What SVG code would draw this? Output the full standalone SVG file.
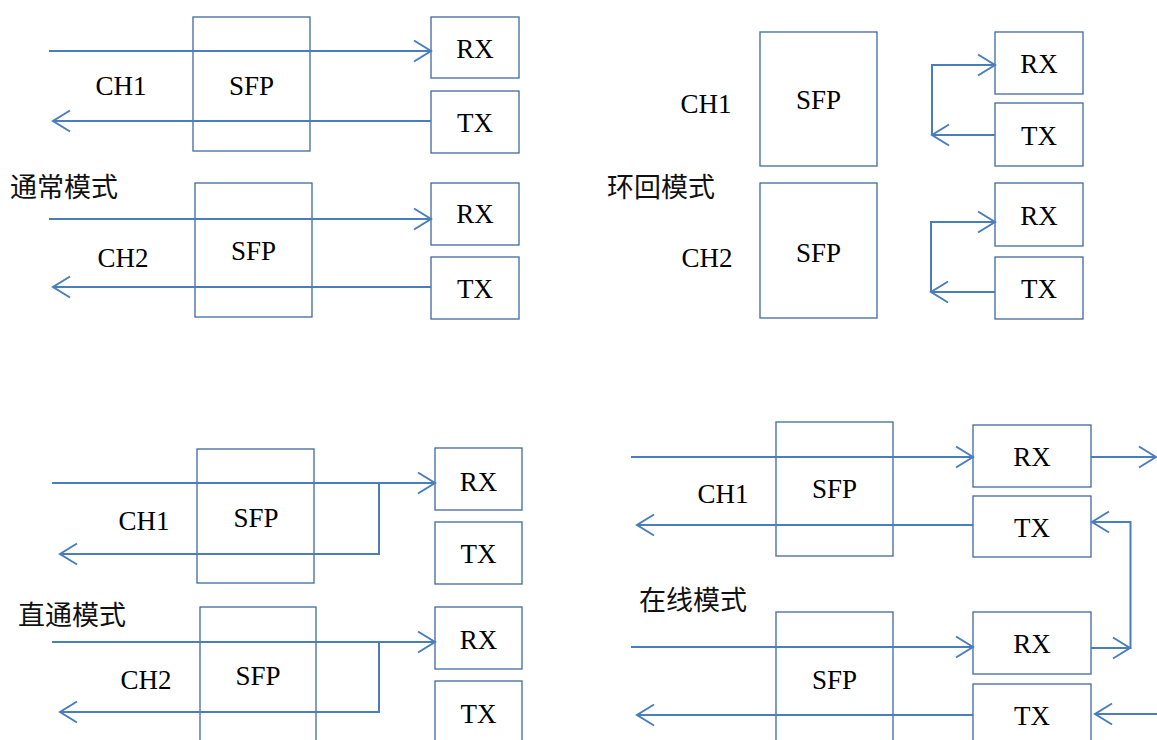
<svg xmlns="http://www.w3.org/2000/svg" width="1157" height="740" viewBox="0 0 1157 740">
<defs>
<style>
.box{fill:#fff;stroke:#41699e;stroke-width:1.3}
.ln{fill:none;stroke:#4a7ebb;stroke-width:2}
.t{font-family:"Liberation Serif","Times New Roman",serif;font-size:27px;fill:#000;text-anchor:middle}
.cn{font-family:"Noto Sans CJK SC","Noto Sans CJK JP",sans-serif;font-size:27px;fill:#111}
</style>
<marker id="ah" markerUnits="userSpaceOnUse" viewBox="-20 -13 22 26" markerWidth="22" markerHeight="26" refX="0" refY="0" orient="auto">
<path d="M-17,-10.5 L0,0 L-17,10.5" fill="none" stroke="#4a7ebb" stroke-width="2"/>
</marker>
</defs>
<rect width="1157" height="740" fill="#fff"/>

<!-- Q1 normal mode -->
<g id="q1-sfp1"><rect class="box" x="193" y="17" width="117" height="134"/><text class="t" x="251.5" y="95">SFP</text></g>
<g id="q1-rx1"><rect class="box" x="431" y="17" width="88" height="61"/><text class="t" x="475" y="58">RX</text></g>
<g id="q1-tx1"><rect class="box" x="431" y="91" width="88" height="62"/><text class="t" x="475" y="132">TX</text></g>
<g id="q1-sfp2"><rect class="box" x="195" y="183" width="117" height="134"/><text class="t" x="253.5" y="260">SFP</text></g>
<g id="q1-rx2"><rect class="box" x="431" y="183" width="88" height="62"/><text class="t" x="475" y="223">RX</text></g>
<g id="q1-tx2"><rect class="box" x="431" y="257" width="88" height="62"/><text class="t" x="475" y="298">TX</text></g>
<g id="q1-labels">
<text class="t" x="121" y="95">CH1</text>
<text class="t" x="123" y="267">CH2</text>
<text class="cn" x="10" y="197">通常模式</text>
</g>

<!-- Q2 loopback mode -->
<g id="q2-sfp1"><rect class="box" x="760" y="32" width="117" height="134"/><text class="t" x="818.5" y="109">SFP</text></g>
<g id="q2-rx1"><rect class="box" x="995" y="32" width="88" height="62"/><text class="t" x="1039" y="73">RX</text></g>
<g id="q2-tx1"><rect class="box" x="995" y="103" width="88" height="63"/><text class="t" x="1039" y="145">TX</text></g>
<g id="q2-sfp2"><rect class="box" x="760" y="183" width="117" height="135"/><text class="t" x="818.5" y="262">SFP</text></g>
<g id="q2-rx2"><rect class="box" x="995" y="183" width="88" height="63"/><text class="t" x="1039" y="225">RX</text></g>
<g id="q2-tx2"><rect class="box" x="995" y="257" width="88" height="62"/><text class="t" x="1039" y="298">TX</text></g>
<g id="q2-labels">
<text class="t" x="706" y="113">CH1</text>
<text class="t" x="707" y="267">CH2</text>
<text class="cn" x="607" y="197">环回模式</text>
</g>

<!-- Q3 pass-through mode -->
<g id="q3-sfp1"><rect class="box" x="197" y="449" width="117" height="134"/><text class="t" x="256" y="527">SFP</text></g>
<g id="q3-rx1"><rect class="box" x="435" y="448" width="87" height="62"/><text class="t" x="478.5" y="491">RX</text></g>
<g id="q3-tx1"><rect class="box" x="435" y="522" width="87" height="62"/><text class="t" x="478.5" y="563">TX</text></g>
<g id="q3-sfp2"><rect class="box" x="200" y="607" width="116" height="140"/><text class="t" x="258" y="685">SFP</text></g>
<g id="q3-rx2"><rect class="box" x="435" y="607" width="87" height="62"/><text class="t" x="478.5" y="649">RX</text></g>
<g id="q3-tx2"><rect class="box" x="435" y="681" width="87" height="70"/><text class="t" x="478.5" y="723">TX</text></g>
<g id="q3-labels">
<text class="t" x="144" y="530">CH1</text>
<text class="t" x="146" y="689">CH2</text>
<text class="cn" x="18" y="625">直通模式</text>
</g>

<!-- Q4 online mode -->
<g id="q4-sfp1"><rect class="box" x="776" y="422" width="117" height="134"/><text class="t" x="834.5" y="498">SFP</text></g>
<g id="q4-rx1"><rect class="box" x="973" y="425" width="118" height="62"/><text class="t" x="1032" y="466">RX</text></g>
<g id="q4-tx1"><rect class="box" x="973" y="496" width="118" height="61"/><text class="t" x="1032" y="537">TX</text></g>
<g id="q4-sfp2"><rect class="box" x="776" y="612" width="117" height="140"/><text class="t" x="834.5" y="689">SFP</text></g>
<g id="q4-rx2"><rect class="box" x="973" y="612" width="118" height="62"/><text class="t" x="1032" y="653">RX</text></g>
<g id="q4-tx2"><rect class="box" x="973" y="684" width="118" height="70"/><text class="t" x="1032" y="725">TX</text></g>
<g id="q4-labels">
<text class="t" x="723" y="503">CH1</text>
<text class="cn" x="639" y="610">在线模式</text>
</g>

<g id="connectors" class="ln">
<path class="ln" d="M49,51 H431" marker-end="url(#ah)"/>
<path class="ln" d="M431,121 H53" marker-end="url(#ah)"/>
<path class="ln" d="M49,219 H431" marker-end="url(#ah)"/>
<path class="ln" d="M431,287 H53" marker-end="url(#ah)"/>
<path class="ln" d="M932,135 V65 H995" marker-end="url(#ah)"/>
<path class="ln" d="M995,135 H932" marker-end="url(#ah)"/>
<path class="ln" d="M931,292 V222 H995" marker-end="url(#ah)"/>
<path class="ln" d="M995,292 H931" marker-end="url(#ah)"/>
<path class="ln" d="M52,483 H435" marker-end="url(#ah)"/>
<path class="ln" d="M379,483 V554 H60" marker-end="url(#ah)"/>
<path class="ln" d="M52,642 H435" marker-end="url(#ah)"/>
<path class="ln" d="M379,642 V712 H60" marker-end="url(#ah)"/>
<path class="ln" d="M631,457 H973" marker-end="url(#ah)"/>
<path class="ln" d="M973,525 H637" marker-end="url(#ah)"/>
<path class="ln" d="M1091,457 H1156" marker-end="url(#ah)"/>
<path class="ln" d="M631,647 H973" marker-end="url(#ah)"/>
<path class="ln" d="M973,715 H637" marker-end="url(#ah)"/>
<path class="ln" d="M1091,648 H1130" marker-end="url(#ah)"/>
<path class="ln" d="M1130.5,649 V522 H1092" marker-end="url(#ah)"/>
<path class="ln" d="M1157,714 H1095" marker-end="url(#ah)"/>
</g>
</svg>
